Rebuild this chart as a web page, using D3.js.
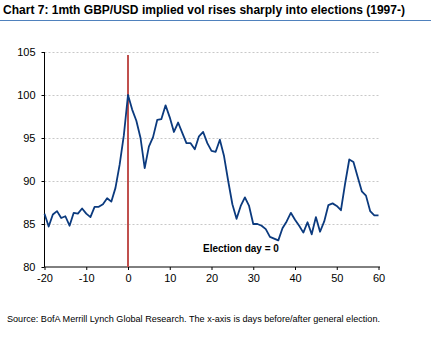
<!DOCTYPE html>
<html>
<head>
<meta charset="utf-8">
<script src="https://cdn.jsdelivr.net/npm/d3@7"></script>
<style>
  body { margin: 0; background: #fff; }
  svg text { font-family: Arial, "Liberation Sans", sans-serif; }
</style>
</head>
<body>
<svg id="chart" width="433" height="343"></svg>
<script>
// days before/after election
const days = d3.range(-20, 61);
// 1mth GBP/USD implied vol (indexed)
const vol = [
  86.2, 84.7, 86.1, 86.5, 85.7, 85.9, 84.8, 86.3, 86.2, 86.8,
  86.2, 85.8, 87.0, 87.0, 87.3, 88.0, 87.6, 89.2, 91.9, 95.3,
  100.0, 98.3, 97.0, 95.0, 91.5, 94.0, 95.1, 97.1, 97.2, 98.8,
  97.4, 95.7, 96.8, 95.6, 94.4, 94.4, 93.7, 95.2, 95.7, 94.4,
  93.5, 93.4, 94.8, 92.9, 90.0, 87.3, 85.6, 87.1, 88.1, 87.1,
  85.0, 85.0, 84.8, 84.4, 83.5, 83.3, 83.1, 84.5, 85.3, 86.3,
  85.5, 84.8, 84.0, 85.2, 83.8, 85.8, 84.1, 85.3, 87.2, 87.4,
  87.1, 86.6, 89.7, 92.5, 92.2, 90.5, 88.8, 88.3, 86.5, 86.0,
  86.0
];
const xTicks = [-20, -10, 0, 10, 20, 30, 40, 50, 60];
const yTicks = [80, 85, 90, 95, 100, 105];
const electionDay = 0;

const title = "Chart 7: 1mth GBP/USD implied vol rises sharply into elections (1997-)";
const source = "Source: BofA Merrill Lynch Global Research. The x-axis is days before/after general election.";

const svg = d3.select("#chart");

const x = d3.scaleLinear().domain([-20, 60]).range([44.5, 378.5]);
const y = d3.scaleLinear().domain([80, 105]).range([267, 52]);

// title + rule (reference font is narrow, so squeeze to its width)
svg.append("text")
  .attr("x", 3).attr("y", 14)
  .attr("font-size", 12.5).attr("font-weight", "bold")
  .attr("textLength", 402).attr("lengthAdjust", "spacingAndGlyphs")
  .text(title);
svg.append("line")
  .attr("x1", 0).attr("x2", 431).attr("y1", 20.5).attr("y2", 20.5)
  .attr("stroke", "#4f81bd").attr("stroke-width", 1);

// gridlines
svg.append("g")
  .selectAll("line")
  .data(yTicks.filter(d => d > 80))
  .join("line")
  .attr("x1", x(-20)).attr("x2", 380)
  .attr("y1", d => Math.round(y(d)) + 0.5).attr("y2", d => Math.round(y(d)) + 0.5)
  .attr("stroke", "#c8c8c8").attr("stroke-dasharray", "2,2");

// y axis
const yAxis = svg.append("g")
  .attr("transform", `translate(${x(-20)},0)`)
  .call(d3.axisLeft(y).tickValues(yTicks).tickFormat(d => String(d)).tickSize(3).tickPadding(6));
yAxis.select(".domain").attr("d", `M0,${y(105)}V${y(80)}`);

// x axis
const xAxis = svg.append("g")
  .attr("transform", `translate(0,${y(80)})`)
  .call(d3.axisBottom(x).tickValues(xTicks).tickFormat(d => String(d)).tickSize(3).tickPadding(4));
xAxis.select(".domain").attr("d", `M${x(-20)},0H380`);

svg.selectAll(".tick text").attr("font-size", 11).attr("fill", "#000")
  .attr("font-family", "Arial, 'Liberation Sans', sans-serif");
svg.selectAll(".domain, .tick line").attr("stroke", "#000");

// election day marker
svg.append("line")
  .attr("x1", x(electionDay)).attr("x2", x(electionDay))
  .attr("y1", y(104.65)).attr("y2", y(80))
  .attr("stroke", "#c0504d").attr("stroke-width", 2);

// vol line
const line = d3.line().x((d, i) => x(days[i])).y(d => y(d));
svg.append("path")
  .datum(vol)
  .attr("d", line)
  .attr("fill", "none")
  .attr("stroke", "#0b3a7e")
  .attr("stroke-width", 1.8)
  .attr("stroke-linejoin", "round");

// annotation
svg.append("text")
  .attr("x", 203).attr("y", 252)
  .attr("font-size", 10).attr("font-weight", "bold")
  .text("Election day = 0");

// source
svg.append("text")
  .attr("x", 7).attr("y", 322)
  .attr("font-size", 9.5)
  .attr("textLength", 373).attr("lengthAdjust", "spacingAndGlyphs")
  .text(source);
</script>
</body>
</html>
